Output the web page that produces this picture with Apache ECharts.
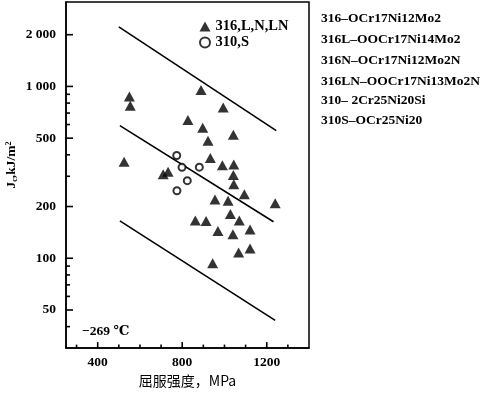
<!DOCTYPE html>
<html>
<head>
<meta charset="utf-8">
<script src="https://cdn.jsdelivr.net/npm/echarts@6/dist/echarts.min.js"></script>
<style>html,body{margin:0;padding:0;background:#fff;}#c{width:480px;height:393px;}</style>
</head>
<body>
<div id="c"></div>
<script>
// ---- data ----
var steel316X = [550,554,889,994,827,897,1042,922,525,933,990,1044,710,733,1042,1044,1094,955,1017,1240,1028,862,913,1070,969,1121,1040,1067,1121,944];
var steel316Y = [873,771,952,755,638,574,523,483,364,383,348,351,308,319,305,270,236,220,216,209,181,166,165,166,144,147,138,108,114,93.5];
var steel310X = [774,799,881,824,775];
var steel310Y = [396,338,339,283,247];
var upperLineX = [500,1245], upperLineY = [2222,553];
var middleLineX = [505,1232], middleLineY = [591,163];
var lowerLineX = [505,1240], lowerLineY = [165,43.5];
var xMajorTicks = [400,800,1200];
var xMinorTicks = [300,500,600,700,900,1000,1100,1300];
var yMajorTicks = [50,100,200,500,1000,2000];
var yMinorTicks = [40,60,70,80,90,300,400,600,700,800,900];
var legendNames = ['316,L,N,LN','310,S'];
var gradeNotes = ['316–OCr17Ni12Mo2','316L–OOCr17Ni14Mo2','316N–OCr17Ni12Mo2N','316LN–OOCr17Ni13Mo2N','310– 2Cr25Ni20Si','310S–OCr25Ni20'];
var tempNote = '−269 ℃';
var xName = '屈服强度，MPa';

var X_MIN = 250, X_MAX = 1400, Y_MIN = 30, Y_MAX = 3100;
function zip(a,b){var r=[];for(var i=0;i<a.length;i++)r.push([a[i],b[i]]);return r;}
var serif = '"Liberation Serif","DejaVu Serif",serif';
var ink = '#000';
function lineSeries(xs,ys){
  return {type:'line',data:zip(xs,ys),symbol:'none',lineStyle:{color:ink,width:1.6},silent:true,z:1};
}
// inward tick marks, placed through the axis scales as small rect symbols
function tickSeries(vals, isX, len){
  return {
    type:'scatter',clip:false,silent:true,symbol:'rect',z:6,
    symbolSize: isX ? [1.6,len] : [len,1.6],
    symbolOffset: isX ? [0,-len/2] : [len/2,0],
    itemStyle:{color:ink,opacity:1},
    data: vals.map(function(v){return isX?[v,Y_MIN]:[X_MIN,v];})
  };
}
var chart = echarts.init(document.getElementById('c'),null,{renderer:'canvas'});
var graphics = [];
var noteY=[18.5,39.5,61,81.5,101,120.5];
gradeNotes.forEach(function(t,i){
  graphics.push({type:'text',x:321,y:noteY[i],style:{text:t,fill:ink,font:'bold 13.5px '+serif,textVerticalAlign:'middle'}});
});
graphics.push({type:'text',x:82,y:332,style:{text:tempNote,fill:ink,font:'bold 13.5px '+serif,textVerticalAlign:'middle'}});
graphics.push({type:'text',x:12,y:165,rotation:Math.PI/2,style:{
  text:'J{s|c},kJ/m{p|2}',fill:ink,font:'bold 13.5px '+serif,textAlign:'center',textVerticalAlign:'middle',
  rich:{s:{fontSize:8,fontWeight:'bold',fontFamily:serif,verticalAlign:'bottom',padding:[6,0,0,0]},p:{fontSize:8,fontWeight:'bold',fontFamily:serif,verticalAlign:'top',padding:[0,0,6,0]}}
}});
function fmtY(v){return v>=1000?(Math.floor(v/1000)+' '+String(v%1000).padStart(3,'0')):String(v);}
var option = {
  animation:false,
  backgroundColor:'#fff',
  grid:{left:66,right:171,top:2,bottom:42,show:true,borderColor:ink,borderWidth:1.5},
  legend:{
    orient:'vertical',left:194,top:14,itemWidth:11,itemHeight:10,itemGap:1,
    textStyle:{fontFamily:serif,fontWeight:'bold',fontSize:14.5,color:ink},
    data:[{name:legendNames[0]},{name:legendNames[1]}]
  },
  xAxis:{
    type:'value',min:X_MIN,max:X_MAX,position:'bottom',
    axisLine:{show:true,lineStyle:{color:ink,width:1.5}},
    axisTick:{show:false},
    axisLabel:{customValues:xMajorTicks,margin:7,fontFamily:serif,fontWeight:'bold',fontSize:13.5,color:ink,
      formatter:function(v){return String(v);}},
    splitLine:{show:false},
    name:xName,nameLocation:'middle',nameGap:24,
    nameTextStyle:{fontFamily:'"Noto Sans CJK SC",sans-serif',fontSize:14,color:ink}
  },
  yAxis:{
    type:'log',logBase:10,min:Y_MIN,max:Y_MAX,position:'left',
    axisLine:{show:true,lineStyle:{color:ink,width:1.5}},
    axisTick:{show:false},
    axisLabel:{customValues:yMajorTicks,margin:10,fontFamily:serif,fontWeight:'bold',fontSize:13.5,color:ink,formatter:fmtY},
    splitLine:{show:false}
  },
  series:[
    lineSeries(upperLineX,upperLineY),
    lineSeries(middleLineX,middleLineY),
    lineSeries(lowerLineX,lowerLineY),
    tickSeries(xMajorTicks,true,6),
    tickSeries(xMinorTicks,true,3.5),
    tickSeries(yMajorTicks,false,7),
    tickSeries(yMinorTicks,false,4),
    {name:legendNames[0],type:'scatter',data:zip(steel316X,steel316Y),symbol:'triangle',symbolSize:[11,10],
     itemStyle:{color:ink},z:3},
    {name:legendNames[1],type:'scatter',data:zip(steel310X,steel310Y),symbol:'emptyCircle',symbolSize:7,
     itemStyle:{color:ink,borderColor:ink,borderWidth:1.5},z:3}
  ],
  graphic:graphics
};
chart.setOption(option);
</script>
</body>
</html>
